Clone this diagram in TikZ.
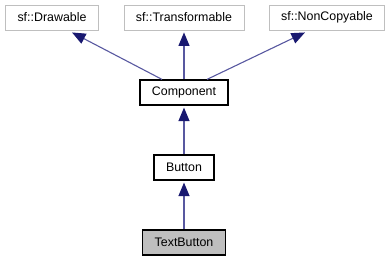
\documentclass[tikz,border=0pt]{standalone}
\usepackage{fontspec}
\setmainfont{Liberation Sans}
\usepackage{tikz}
\usetikzlibrary{arrows.meta}
\definecolor{edgeblue}{RGB}{25,25,112}
\definecolor{edgeline}{RGB}{88,88,160}
\definecolor{boxgrey}{RGB}{191,191,191}
\tikzstyle{extclass} = [
	rectangle,
	minimum height=25pt,
	inner xsep=12pt,
	text centered,
	draw=boxgrey,
	line width=0.9pt,
	fill=white,
	font=\fontsize{12.4}{14}\selectfont
]
\tikzstyle{class} = [
	extclass,
	draw=black,
	line width=1.2pt
]
\tikzstyle{current} = [
	class,
	fill=boxgrey
]
\tikzstyle{inherit} = [
	draw=edgeline,
	line width=1.1pt,
	<-,
	>={Triangle[length=13.5pt,width=11pt,fill=edgeblue,color=edgeblue]}
]

\begin{document}
\begin{tikzpicture}[x=1pt, y=-1pt, node distance=75pt]
        \useasboundingbox (0,0) rectangle (392,261);
        \node (trans) [extclass] at (184,17.5) {sf::Transformable};
        \node (drawable) [extclass] at (52,17.5) {sf::Drawable};
        \node (noncopy) [extclass] at (327,17.5) {sf::NonCopyable};
        \node (comp) [class, below of=trans] {Component};
        \node (button) [class, below of=comp] {Button};
        \node (textbtn) [current, below of=button] {TextButton};
        \draw [inherit] ([xshift=20pt,yshift=-2pt]drawable.south) -- ([xshift=-22pt]comp.north);
        \draw [inherit] ([yshift=-2pt]trans.south) -- (comp.north);
        \draw [inherit] ([xshift=-22pt,yshift=-2pt]noncopy.south) -- ([xshift=23pt]comp.north);
        \draw [inherit] ([yshift=-2pt]comp.south) -- (button.north);
        \draw [inherit] ([yshift=-2pt]button.south) -- (textbtn.north);
      \end{tikzpicture}
\end{document}
